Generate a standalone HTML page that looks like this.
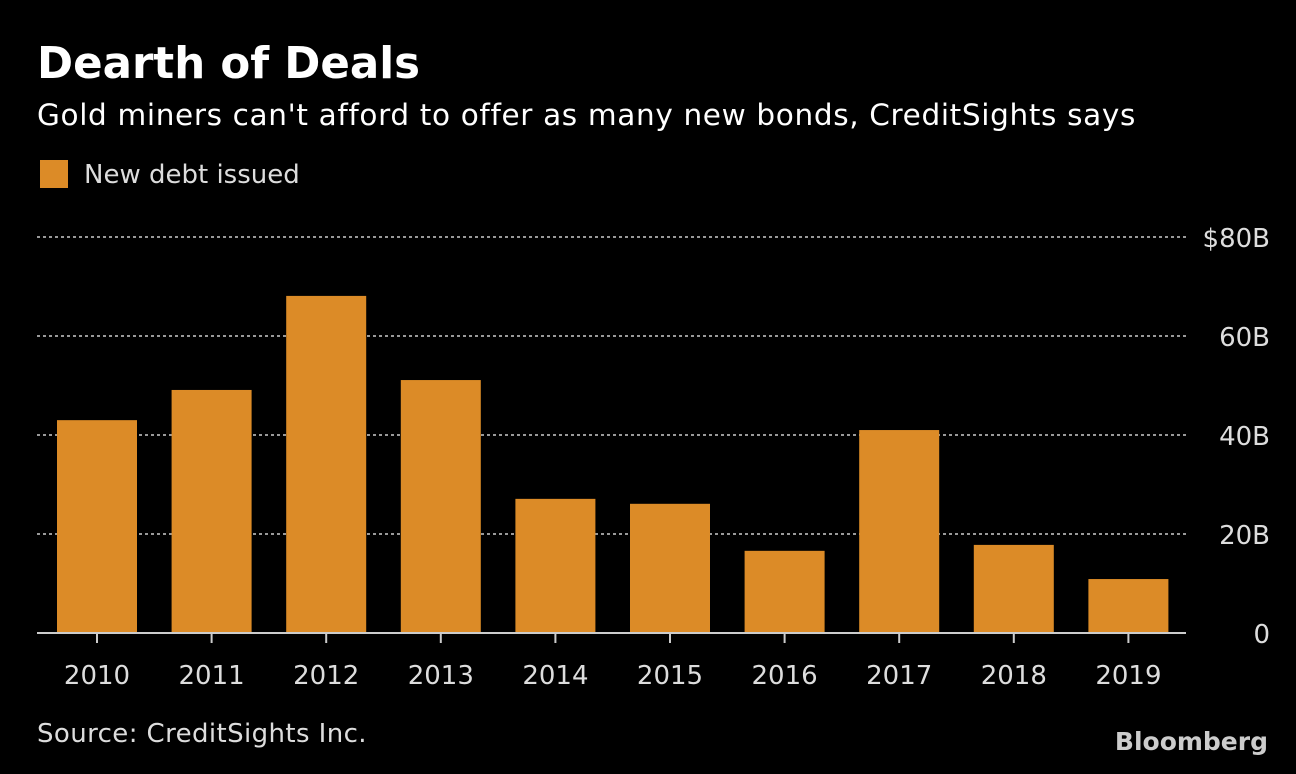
<!DOCTYPE html>
<html><head><meta charset="utf-8"><style>
body{margin:0;background:#000;width:1296px;height:770px;overflow:hidden;font-family:"DejaVu Sans","Liberation Sans",sans-serif;color:#fff}
svg text{font-family:"DejaVu Sans","Liberation Sans",sans-serif}
</style></head><body>
<svg width="1296" height="770" xmlns="http://www.w3.org/2000/svg">
<text x="37" y="78" font-size="43.5" font-weight="bold" fill="#fff">Dearth of Deals</text>
<text x="37" y="125" font-size="29.5" letter-spacing="0.65" fill="#fff">Gold miners can't afford to offer as many new bonds, CreditSights says</text>
<rect x="40" y="160" width="28" height="28" fill="#dc8b27"/>
<text x="84" y="183" font-size="26" fill="#ddd">New debt issued</text>
<g id="grid"></g><g id="bars"></g><g id="xlabels"></g><g id="ylabels"></g>
<line x1="37" y1="633" x2="1186" y2="633" stroke="#ccc" stroke-width="2"/>
<text x="37" y="742" font-size="26" letter-spacing="0.4" fill="#ddd">Source: CreditSights Inc.</text>
<text x="1268" y="750" font-size="25" font-weight="bold" fill="#ccc" text-anchor="end">Bloomberg</text>
</svg>
<script>
const categories=["2010","2011","2012","2013","2014","2015","2016","2017","2018","2019"];
const values=[43,49.1,68.1,51.1,27.1,26.1,16.6,41,17.8,10.9];
const yTicks=[0,20,40,60,80];
const yTickLabels=["0","20B","40B","60B","$80B"];
const NS="http://www.w3.org/2000/svg";
const x0=37,x1=1186,y0=633,yTop=237,yMax=80;
const band=(x1-x0)/categories.length;
const y=v=>y0-(v/yMax)*(y0-yTop);
const xc=i=>x0+60+114.6*i;
function mk(t,a,p){const e=document.createElementNS(NS,t);for(const k in a)e.setAttribute(k,a[k]);document.getElementById(p).appendChild(e);return e;}
yTicks.forEach((t,i)=>{
 if(t>0){const l=mk('line',{x1:x0,x2:x1,y1:y(t),y2:y(t),stroke:'#999','stroke-width':2,'stroke-dasharray':'3,3'},'grid');
 
 }
 const tx=mk('text',{x:1270,y:y(t)+10,'font-size':26,fill:'#ddd','text-anchor':'end'},'ylabels');
 tx.textContent=yTickLabels[i];
 
 
});
categories.forEach((c,i)=>{
 const r=mk('rect',{x:xc(i)-40,y:y(values[i]),width:80,height:y0-y(values[i]),fill:'#dc8b27'},'bars');
 
 
 const tk=mk('line',{x1:xc(i),x2:xc(i),y1:y0,y2:y0+10,stroke:'#ccc','stroke-width':2},'xlabels');
 
 
 const t=mk('text',{x:xc(i),y:684,'font-size':26,fill:'#ddd','text-anchor':'middle'},'xlabels');
 t.textContent=c;
 
 
});
</script>
</body></html>
